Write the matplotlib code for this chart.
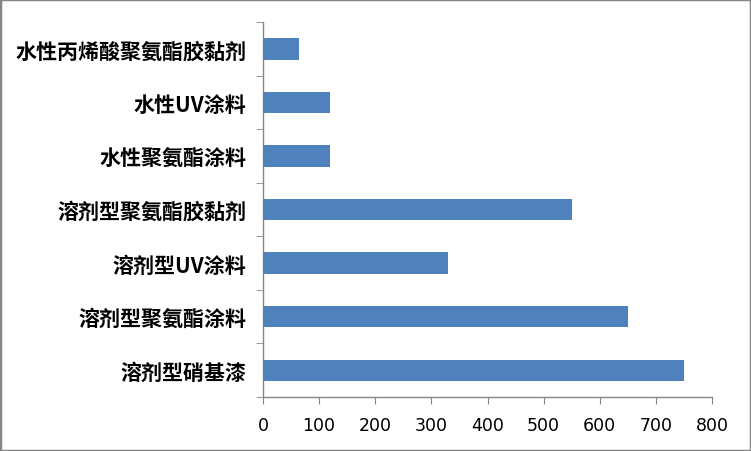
import matplotlib
matplotlib.use("Agg")
import matplotlib.pyplot as plt
import numpy as np
from matplotlib.patches import Rectangle

categories = ["溶剂型硝基漆", "溶剂型聚氨酯涂料", "溶剂型UV涂料", "溶剂型聚氨酯胶黏剂",
              "水性聚氨酯涂料", "水性UV涂料", "水性丙烯酸聚氨酯胶黏剂"]
values = [750, 650, 330, 550, 120, 120, 65]
xticks = [0, 100, 200, 300, 400, 500, 600, 700, 800]

plt.rcParams['font.family'] = ['Noto Sans CJK SC', 'DejaVu Sans']

fig = plt.figure(figsize=(7.51, 4.52), dpi=100)
ax = fig.add_axes([263/751, 1-398/452, (712-263)/751, (398-23)/452])

y = np.arange(len(categories))
ax.barh(y, values, height=0.4, color="#4F81BD", zorder=3)
ax.set_xlim(0, 800)
ax.set_ylim(-0.5, len(categories) - 0.5)

gray = "#868686"
for s in ["top", "right"]:
    ax.spines[s].set_visible(False)
for s in ["left", "bottom"]:
    ax.spines[s].set_color(gray)
    ax.spines[s].set_linewidth(1.0)

ax.set_xticks(xticks)
ax.set_xticklabels([str(t) for t in xticks], fontsize=12.5, family=['DejaVu Sans'])
ax.tick_params(axis='x', direction='out', length=5, color=gray, pad=9)

ax.set_yticks(y)
ax.set_yticklabels(categories, fontsize=15.1, fontweight='bold')
ax.tick_params(axis='y', which='major', length=0, pad=12)
ax.set_yticks(np.arange(-0.5, len(categories), 1.0), minor=True)
ax.tick_params(axis='y', which='minor', direction='out', length=5, color=gray)

fig.patches.append(Rectangle((0, 0), 1, 1, transform=fig.transFigure, fill=False,
                             edgecolor="#868686", linewidth=2.5))

fig.savefig("out.png", dpi=100)
